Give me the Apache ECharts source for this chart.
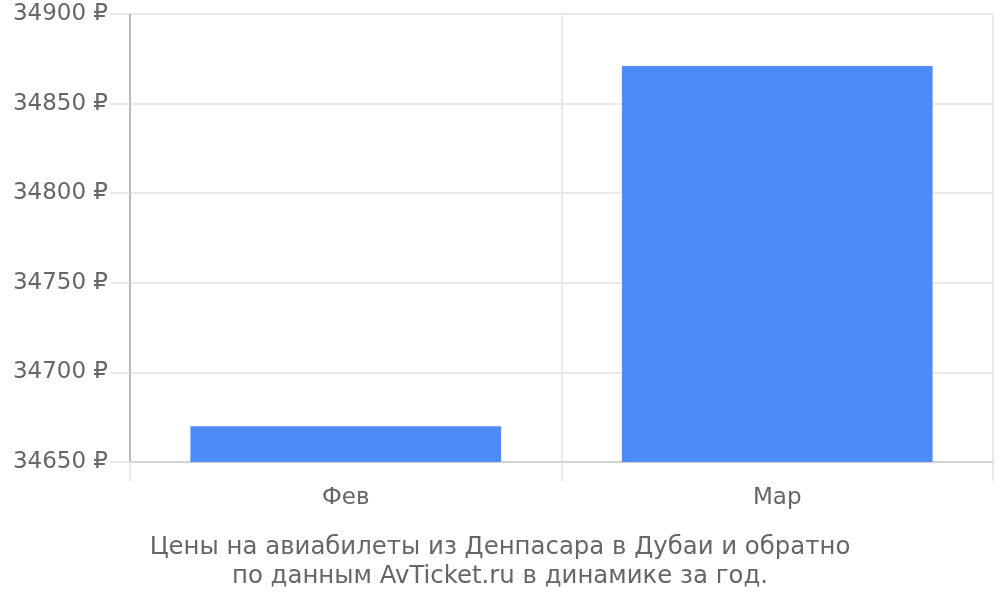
<!DOCTYPE html>
<html><head><meta charset="utf-8">
<script src="https://cdn.jsdelivr.net/npm/echarts@6/dist/echarts.min.js"></script>
<style>html,body{margin:0;padding:0;background:#fff}#c{width:1000px;height:600px}</style>
</head><body><div id="c"></div>
<script>
const categories = ['Фев', 'Мар'];
const prices = [34670, 34871];
const yTicks = [34650, 34700, 34750, 34800, 34850, 34900];
const titleLines = ['Цены на авиабилеты из Денпасара в Дубаи и обратно', 'по данным AvTicket.ru в динамике за год.'];

const chart = echarts.init(document.getElementById('c'), null, {renderer: 'canvas'});
const font = 'DejaVu Sans';
const titleStyle = {fontFamily: font, fontSize: 24.4, fontWeight: 'normal', color: '#666'};
chart.setOption({
  animation: false,
  textStyle: {fontFamily: font},
  title: [
    {text: titleLines[0], left: 'center', top: 531, textStyle: titleStyle},
    {text: titleLines[1], left: 'center', top: 560, textStyle: titleStyle}
  ],
  grid: {left: 130, right: 7, top: 14, bottom: 138, containLabel: false},
  xAxis: {
    type: 'category', data: categories,
    axisLine: {show: true, lineStyle: {color: '#ccc', width: 1.5}},
    axisTick: {show: true, length: 19, lineStyle: {color: '#e3e3e3', width: 1.5}},
    splitLine: {show: true, lineStyle: {color: '#e3e3e3', width: 1.5}},
    axisLabel: {fontFamily: font, fontSize: 23, color: '#666', margin: 25}
  },
  yAxis: {
    type: 'value', min: yTicks[0], max: yTicks[yTicks.length - 1], interval: 50,
    axisLine: {show: true, lineStyle: {color: '#aaa', width: 1.5}},
    axisTick: {show: true, length: 20, lineStyle: {color: '#e3e3e3', width: 1.5}},
    splitLine: {show: true, lineStyle: {color: '#e3e3e3', width: 1.5}},
    axisLabel: {fontFamily: font, fontSize: 23, color: '#666', margin: 22, formatter: v => v + ' ₽'}
  },
  series: [{
    type: 'bar', data: prices, barCategoryGap: '28%',
    itemStyle: {color: '#4d8bf9'}
  }]
});
</script></body></html>
